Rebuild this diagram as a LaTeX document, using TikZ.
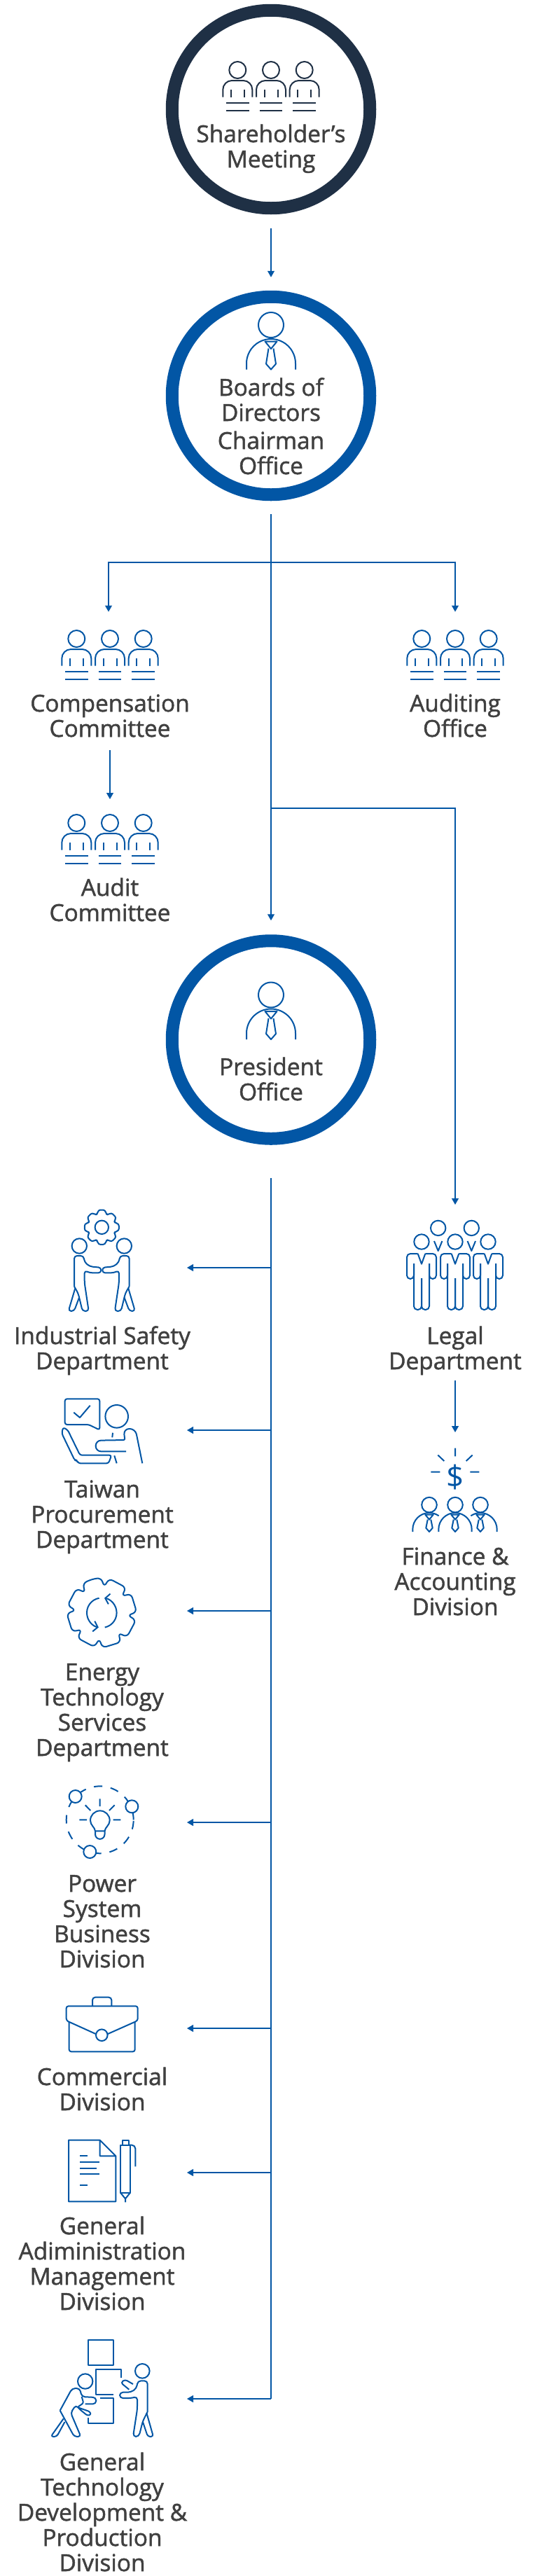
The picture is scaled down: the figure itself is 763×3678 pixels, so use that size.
\documentclass[tikz,border=0pt]{standalone}
\usepackage{fontspec}
\setmainfont{Open Sans}[FakeBold=1.5]
\newfontfamily\plainfont{Open Sans}
\usetikzlibrary{arrows.meta,positioning}
\definecolor{brand}{HTML}{0256A5}
\definecolor{navy}{HTML}{1F3045}
\definecolor{ink}{HTML}{404040}
\tikzset{
    ring/.style={circle,draw,line width=18pt,minimum size=282.5pt,inner sep=0pt},
    lbl/.style={anchor=base,align=center,inner sep=0pt,text=ink,font=\fontsize{33.4}{36}\selectfont},
    conn/.style={draw=brand,line width=1.2pt},
    tip/.style={conn,-{Triangle[length=9pt,width=10pt]}},
    icon/.style={line width=2pt,line join=round},
    seated/.pic={
        \draw[icon] (0,0) circle[radius=12pt];
        \draw[icon,rounded corners=13pt] (-21,38.6) -- (-21,15) -- (21,15) -- (21,38.6);
        \draw[icon] (-9.5,28) -- (-9.5,38.6) (9.5,28) -- (9.5,38.6);
        \draw[icon] (-16.3,47) -- (16.3,47) (-16.3,58) -- (16.3,58);
    },
    seatedgroup/.pic={
        \foreach \dx in {-47.7,0,47.7} {
            \path (\dx,0) pic {seated};
        }
    },
    boss/.pic={
        \draw[icon] (0,0) circle[radius=18pt];
        \draw[icon,rounded corners=35pt] (-35,63.5) -- (-35,20) -- (35,20) -- (35,63.5);
        \draw[icon] (-8.5,23.5) -- (8.5,23.5) -- (0,34) -- cycle;
        \draw[icon] (-3.5,33.5) -- (-7,55.5) -- (0,63.5) -- (7,55.5) -- (3.5,33.5);
    },
    smallboss/.pic={
        \draw[icon] (0,0) circle[radius=10.8pt];
        \draw[icon] (-5.7,14) -- (5.7,14) -- (0,21) -- cycle;
        \draw[icon] (-2.3,21) -- (-4.7,33) -- (0,38.4) -- (4.7,33) -- (2.3,21);
    },
    suited/.pic={
        \draw[icon] (0,0) circle[radius=10.7pt];
        \draw[icon] (-5.3,17) -- (0,31.7) -- (5.3,17);
        \foreach \s in {1,-1} {
            \begin{scope}[xscale=\s]
                \draw[icon,rounded corners=5pt] (-5.3,17) -- (-21,17) -- (-21,53) -- (-11,53) -- (-11,31);
                \draw[icon,rounded corners=5pt] (-11,31) -- (-11,97) -- (0,97) -- (0,52);
            \end{scope}
        }
    },
    greeter/.pic={
        \draw[icon] (-32,0) circle[radius=10.7pt];
        \draw[icon,rounded corners=4pt] (-39.3,57.7) -- (-39.3,14) -- (-26,14) -- (-24.6,23) -- (-17,29.3) [rounded corners=3.6pt] -- (-1,30.8) -- (-1,38.3) -- (-17,38.3) [rounded corners=4pt] -- (-24.6,35) -- (-24.6,52.7) -- (-18.6,93) -- (-27.5,93) -- (-33.6,67.7) -- (-39.3,57.7);
        \draw[icon,rounded corners=4pt] (-38,60.5) -- (-47.6,93) -- (-39.5,93) -- (-32.2,73.5);
    }
}
\begin{document}
\begin{tikzpicture}[x=1pt,y=-1pt,color=brand]
    \useasboundingbox (0,0) rectangle (763,3678);

    % the three offices
    \node[ring,draw=navy] (shareholder) at (387,156) {};
    \node[ring,draw=brand] (board) at (387,565) {};
    \node[ring,draw=brand] (president) at (387,1484.5) {};

    % joints of the lines
    \coordinate (boardOut) at (387,734);
    \coordinate (fork) at (387,803);
    \coordinate (forkLeft) at (155,803);
    \coordinate (forkRight) at (650,803);
    \coordinate (compIn) at (155,873.5);
    \coordinate (auditingIn) at (650,873.5);
    \coordinate (compOut) at (157,1071);
    \coordinate (auditIn) at (157,1141);
    \coordinate (legalFork) at (387,1154);
    \coordinate (legalCorner) at (650,1154);
    \coordinate (legalIn) at (650,1720);
    \coordinate (legalOut) at (650,1971);
    \coordinate (financeIn) at (650,2045);
    \coordinate (presOut) at (387,1682);
    \coordinate (presEnd) at (387,3425);

    \draw[tip] ([yshift=-20pt]shareholder.south) -- ([yshift=19pt]board.north);
    \draw[tip] (boardOut) -- ([yshift=20pt]president.north);
    \draw[tip] (fork) -- (forkLeft) -- (compIn);
    \draw[tip] (fork) -- (forkRight) -- (auditingIn);
    \draw[tip] (compOut) -- (auditIn);
    \draw[tip] (legalFork) -- (legalCorner) -- (legalIn);
    \draw[tip] (legalOut) -- (financeIn);
    \draw[conn] (presOut) -- (presEnd);
    \foreach \name/\ypos in {safety/1810,taiwan/2042,energy/2300,power/2602,commercial/2896,admin/3102,tech/3425} {
        \coordinate (\name Tap) at (387,\ypos);
        \coordinate (\name In) at (267,\ypos);
        \draw[tip] (\name Tap) -- (\name In);
    }

    % people icons
    \path[color=navy] (387,100) pic {seatedgroup};
    \path (157,912) pic {seatedgroup};
    \path (650,912) pic {seatedgroup};
    \path (157,1175) pic {seatedgroup};
    \path (387,464) pic {boss};
    \path (387,1420.5) pic {boss};

    % legal
    \foreach \xpos in {602,650,697} {
        \path (\xpos,1773) pic {suited};
    }
    \foreach \xpos in {625.7,673.3} {
        \draw[icon] (\xpos,1753.4) circle[radius=10.7pt];
        \draw[icon] (\xpos-5.7,1772) -- (\xpos,1786) -- (\xpos+5.7,1772);
    }

    % finance
    \node[font=\plainfont\fontsize{44}{44}\selectfont,text=brand,inner sep=0pt] (dollar) at (650,2109) {\$};
    \draw[icon] (650,2067.6) -- (650,2079.4) (625.3,2077.5) -- (634.3,2086) (674.7,2077.5) -- (665.7,2086) (615.3,2101.6) -- (628.3,2101.6) (671.3,2101.6) -- (684.3,2101.6);
    \foreach \xpos in {613,650,686} {
        \path (\xpos,2148.6) pic {smallboss};
    }
    \draw[icon] (589.3,2187) -- (589.3,2183.7) arc[start angle=180,end angle=55,radius=23.7pt];
    \draw[icon] (626.3,2187) -- (626.3,2183.7) arc[start angle=180,end angle=0,radius=23.7pt] -- (673.7,2187);
    \draw[icon] (709.7,2187) -- (709.7,2183.7) arc[start angle=0,end angle=125,radius=23.7pt];

    % safety
    \draw[icon,rounded corners=3pt] ([shift={(145.3,1752.3)}]90:25pt) foreach \a in {0,45,...,315} { -- ([shift={(145.3,1752.3)}]{\a+90+12}:25pt) -- ([shift={(145.3,1752.3)}]{\a+90+17}:20pt) -- ([shift={(145.3,1752.3)}]{\a+90+28}:20pt) -- ([shift={(145.3,1752.3)}]{\a+90+33}:25pt) } -- cycle;
    \draw[icon] (145.3,1752.3) circle[radius=9.7pt];
    \path (145.3,1779) pic {greeter};
    \path (145.3,1779) pic[xscale=-1] {greeter};

    % procurement
    \draw[icon,rounded corners=3pt] (126.7,2034) -- (92.7,2034) -- (92.7,1997.3) -- (142.3,1997.3) -- (142.3,2041.7) -- cycle;
    \draw[icon] (105.3,2016.7) -- (114,2024) -- (128.7,2006.7);
    \draw[icon] (166.7,2022.3) circle[radius=16.3pt];
    \draw[icon,rounded corners=8pt] (203.3,2089.3) -- (193.3,2040) -- (176.5,2040) [rounded corners=2pt] -- (178.3,2056) [rounded corners=7.5pt] -- (136.7,2056.7) -- (136.7,2072.3) -- (180,2072.3);
    \draw[icon] (161,2045.7) -- (160.3,2052.3) (163.3,2078.3) -- (166.7,2089.3);
    \draw[icon,rounded corners=3pt] (96.7,2041.7) -- (114.3,2077.7) -- (159.3,2077.7) -- (155,2089.3) -- (111.7,2089.3) -- (110,2085) -- (106.7,2085) -- (88.3,2046.7) -- (90,2038) -- cycle;

    % energy
    \draw[icon,rounded corners=6pt] ([shift={(145.3,2302.7)}]107:50pt) foreach \a in {0,45,...,315} { -- ([shift={(145.3,2302.7)}]{\a+107+16}:50pt) -- ([shift={(145.3,2302.7)}]{\a+107+22.5}:37pt) -- ([shift={(145.3,2302.7)}]{\a+107+29}:50pt) } -- cycle;
    \begin{scope}[shift={(145.3,2302.7)}]
        \draw[icon,-{Straight Barb[length=6pt,width=15pt]}] (100:21.3pt) arc[start angle=100,end angle=258,radius=21.3pt];
        \draw[icon,-{Straight Barb[length=6pt,width=15pt]}] (-78:21.3pt) arc[start angle=-78,end angle=80,radius=21.3pt];
    \end{scope}

    % power
    \draw[icon,dashed,dash pattern=on 12pt off 12pt] (142.7,2598.3) circle[radius=48pt];
    \foreach \xpos/\ypos in {107.7/2565,188.3/2579.3,128.3/2644} {
        \draw[icon,fill=white] (\xpos,\ypos) circle[radius=9pt];
    }
    \draw[icon] (129,2599.2) arc[start angle=180,end angle=0,radius=13.85pt] .. controls (156.7,2606) and (150,2609) .. (149.5,2614.3) -- (136,2614.3) .. controls (135.5,2609) and (129,2606) .. (129,2599.2);
    \draw[icon] (136,2614.3) -- (136,2619) arc[start angle=180,end angle=360,radius=6.75pt] -- (149.5,2614.3);
    \draw[icon] (142.7,2568.3) -- (142.7,2579) (121.7,2577.3) -- (129.3,2585) (163.7,2577.3) -- (156,2585) (113.3,2598.3) -- (124,2598.3) (161.7,2598.3) -- (172.3,2598.3);

    % commercial
    \draw[icon,rounded corners=4pt] (132,2864.3) -- (132,2851.7) -- (159.3,2851.7) -- (159.3,2864.3);
    \draw[icon,rounded corners=3pt] (136.7,2904) -- (94.7,2885) -- (94.7,2864.3) -- (196.7,2864.3) -- (196.7,2885) -- (154,2904);
    \draw[icon] (145.3,2905.7) circle[radius=8.3pt];
    \draw[icon,rounded corners=3pt] (98.7,2886.7) -- (98.7,2929.3) -- (192.7,2929.3) -- (192.7,2886.7);

    % administration
    \draw[icon] (142.7,3055.7) -- (98,3055.7) -- (98,3143.3) -- (165.3,3143.3) -- (165.3,3078.3) -- (142.7,3055.7) -- (142.7,3078.3) -- (165.3,3078.3);
    \draw[icon] (114.3,3078.3) -- (125,3078.3) (114.3,3087) -- (142,3087) (114.3,3095.7) -- (137.7,3095.7) (114.3,3104) -- (142,3104) (114.3,3120.3) -- (125,3120.3);
    \draw[icon] (172,3062.7) rectangle (186,3130.7);
    \draw[icon] (174.7,3062.7) -- (174.7,3055.7) -- (184,3055.7) -- (184,3062.7);
    \draw[icon] (172,3130.7) -- (179,3139.3) -- (186,3130.7) (179,3139.3) -- (179,3144.3);
    \draw[icon,rounded corners=5pt] (184,3062.7) -- (193.3,3062.7) -- (193.3,3093.3);

    % technology
    \draw[icon] (126,3340.7) rectangle (162,3376.7);
    \draw[icon] (172.7,3395) -- (172.7,3382.7) -- (136.7,3382.7) -- (136.7,3418.7) -- (162.3,3418.7);
    \draw[icon] (142.7,3424) -- (162,3424) -- (162,3460) -- (126,3460) -- (126,3451.7);
    \draw[icon] (203.3,3385.3) circle[radius=10.3pt];
    \draw[icon] (121.7,3400) circle[radius=10.7pt];
    \draw[icon,rounded corners=3.5pt] (190,3404) -- (178.3,3397.3) -- (172.5,3402) -- (184.3,3411.7);
    \draw[icon,rounded corners=4.5pt] (210.7,3443.3) -- (210.7,3399.3) -- (196.7,3399.3) -- (195,3410) -- (186.7,3415.7) -- (171,3415.7) -- (171,3424) -- (188.3,3424) -- (196,3421.7) -- (196,3440) -- (190,3479) -- (198.3,3479) -- (204,3456.7) -- (210.7,3443.3);
    \draw[icon,rounded corners=3.5pt] (209.3,3445) -- (219,3479) -- (211,3479) -- (204,3458);
    \draw[icon,rounded corners=4.5pt] (85.7,3441.7) -- (103,3410) -- (114,3410) -- (116.7,3422) -- (137.3,3423) -- (137.3,3432.3) -- (121.7,3432.3);
    \draw[icon,rounded corners=2.5pt] (116.7,3422) -- (119.3,3431) -- (110.5,3437) -- (128.3,3443.3) -- (130,3447.5) -- (125,3449) -- (115,3441) [rounded corners=4pt] -- (108.3,3434) -- (101,3445) -- (115.5,3479) -- (106,3479) -- (85.7,3441.7);
    \draw[icon,rounded corners=3.5pt] (90.7,3453.3) -- (72.5,3479) -- (81,3479) -- (92.5,3458);

    % names, placed by the baseline of their last line
    \node[lbl] (shareholderName) at (387,239) {Shareholder’s\\Meeting};
    \node[lbl] (boardName) at (387,677) {Boards of\\Directors\\[4pt]Chairman\\Office};
    \node[lbl] (compName) at (157,1052) {Compensation\\Committee};
    \node[lbl] (auditingName) at (650,1052) {Auditing\\Office};
    \node[lbl] (auditName) at (157,1315) {Audit\\Committee};
    \node[lbl] (presidentName) at (387,1571) {President\\Office};
    \node[lbl] (safetyName) at (146,1955) {Industrial Safety\\Department};
    \node[lbl] (taiwanName) at (146,2210) {Taiwan\\Procurement\\Department};
    \node[lbl] (energyName) at (146,2507) {Energy\\Technology\\Services\\Department};
    \node[lbl] (powerName) at (146,2809) {Power\\System\\Business\\Division};
    \node[lbl] (commercialName) at (146,3013) {Commercial\\Division};
    \node[lbl] (adminName) at (146,3298) {General\\Adiministration\\Management\\Division};
    \node[lbl] (techName) at (146,3671) {General\\Technology\\Development \&\\Production\\Division};
    \node[lbl] (legalName) at (650,1955) {Legal\\Department};
    \node[lbl] (financeName) at (650,2306) {Finance \&\\Accounting\\Division};
\end{tikzpicture}
\end{document}
